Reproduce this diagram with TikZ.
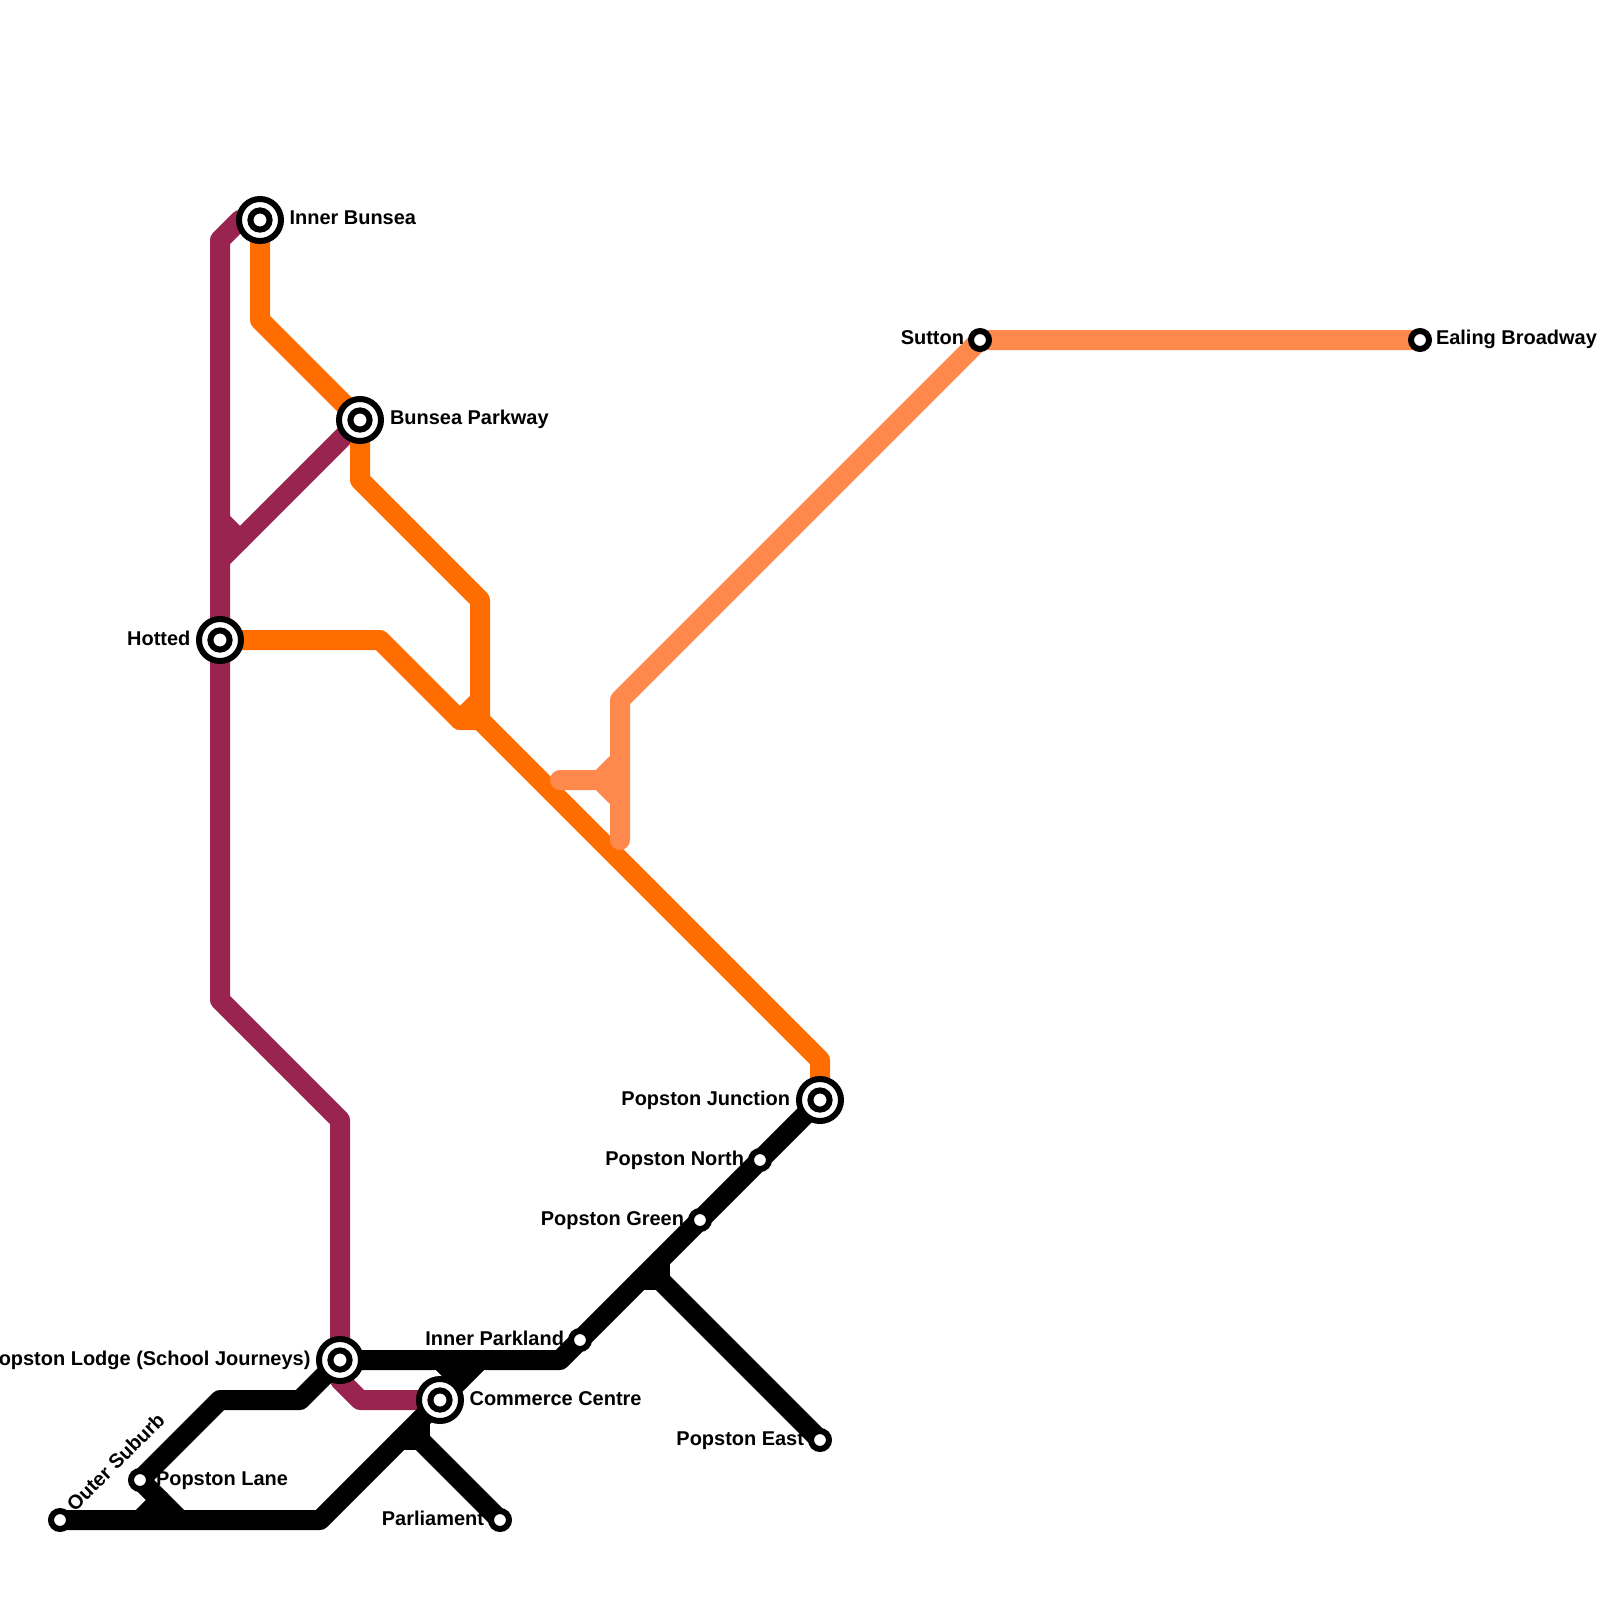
\documentclass[tikz,border=0pt]{standalone}
\usepackage{fontspec}
\setmainfont{Liberation Sans}
\usetikzlibrary{positioning}
\definecolor{plumline}{RGB}{153,36,80}
\definecolor{orangeline}{RGB}{255,108,0}
\definecolor{peachline}{RGB}{255,136,77}
\tikzset{
  lab/.style={font=\fontsize{14.2}{16}\selectfont\bfseries,inner sep=0pt,outer sep=0pt,text height=10.3pt,text depth=3.2pt},
  railway/.style={line width=0.5cm,line join=round,line cap=round},
  hubo/.style={draw=black,circle,fill=white,line width=0.15cm,minimum size=1.05cm,inner sep=0pt},
  hubi/.style={draw=black,circle,fill=white,line width=0.15cm,minimum size=0.48cm,inner sep=0pt},
  halt/.style={draw=black,circle,fill=white,line width=0.15cm,minimum size=0.45cm,inner sep=0pt},
}
\begin{document}
\begin{tikzpicture}[x=0.5cm,y=-0.5cm]
  \useasboundingbox (0,0) rectangle (80,80);
  \coordinate (innerbunseapt) at (13,11);
  \coordinate (bunseaparkwaypt) at (18,21);
  \coordinate (hottedpt) at (11,32);
  \coordinate (suttonpt) at (49,17);
  \coordinate (ealingpt) at (71,17);
  \coordinate (junctionpt) at (41,55);
  \coordinate (northpt) at (38,58);
  \coordinate (greenpt) at (35,61);
  \coordinate (parklandpt) at (29,67);
  \coordinate (lodgept) at (17,68);
  \coordinate (commercept) at (22,70);
  \coordinate (lanept) at (7,74);
  \coordinate (suburbpt) at (3,76);
  \coordinate (eastpt) at (41,72);
  \coordinate (parliamentpt) at (25,76);
  % plum
  \coordinate (plumfork) at (12,27);
  \coordinate (plumstub) at (11,26);
  \draw[railway,plumline] (innerbunseapt) -- (12,11) -- (11,12) -- (11,50) -- (17,56) -- (lodgept) -- (17,69) -- (18,70) -- (commercept);
  \draw[railway,plumline] (bunseaparkwaypt) -- (plumfork) -- (11,28);
  \draw[railway,plumline] (plumstub) -- (plumfork);
  % orange
  \coordinate (orangeknee) at (24,36);
  \coordinate (orangebend) at (23,36);
  \coordinate (orangestub) at (24,35);
  \draw[railway,orangeline] (innerbunseapt) -- (13,16) -- (bunseaparkwaypt) -- (18,24) -- (24,30) -- (orangeknee);
  \draw[railway,orangeline] (hottedpt) -- (19,32) -- (orangebend) -- (orangeknee) -- (41,53) -- (junctionpt);
  \draw[railway,orangeline] (orangebend) -- (orangestub);
  % peach
  \coordinate (peachfork) at (30,39);
  \coordinate (peachend) at (28,39);
  \coordinate (peachbottom) at (31,42);
  \draw[railway,peachline] (ealingpt) -- (suttonpt) -- (31,35) -- (peachbottom);
  \draw[railway,peachline] (peachend) -- (peachfork) -- (31,38);
  \draw[railway,peachline] (peachfork) -- (31,40);
  % black
  \coordinate (eastfork) at (33,64);
  \coordinate (parliamentfork) at (21,72);
  \draw[railway,black] (lodgept) -- (28,68) -- (parklandpt) -- (greenpt) -- (northpt) -- (junctionpt);
  \draw[railway,black] (33,63) -- (eastfork) -- (32,64);
  \draw[railway,black] (eastfork) -- (eastpt);
  \draw[railway,black] (lodgept) -- (15,70) -- (11,70) -- (lanept) -- (9,76);
  \draw[railway,black] (8,75) -- (7,76);
  \draw[railway,black] (suburbpt) -- (16,76) -- (commercept) -- (24,68);
  \draw[railway,black] (22,68) -- (23,69);
  \draw[railway,black] (21,71) -- (parliamentfork) -- (20,72);
  \draw[railway,black] (parliamentfork) -- (parliamentpt);
  % stations
  \node[hubo] (innerbunsea) at (innerbunseapt) {};
  \node[hubi] (innerbunseac) at (innerbunseapt) {};
  \node[hubo] (bunseaparkway) at (bunseaparkwaypt) {};
  \node[hubi] (bunseaparkwayc) at (bunseaparkwaypt) {};
  \node[hubo] (hotted) at (hottedpt) {};
  \node[hubi] (hottedc) at (hottedpt) {};
  \node[hubo] (junction) at (junctionpt) {};
  \node[hubi] (junctionc) at (junctionpt) {};
  \node[hubo] (lodge) at (lodgept) {};
  \node[hubi] (lodgec) at (lodgept) {};
  \node[hubo] (commerce) at (commercept) {};
  \node[hubi] (commercec) at (commercept) {};
  \node[halt] (sutton) at (suttonpt) {};
  \node[halt] (ealing) at (ealingpt) {};
  \node[halt] (north) at (northpt) {};
  \node[halt] (green) at (greenpt) {};
  \node[halt] (parkland) at (parklandpt) {};
  \node[halt] (lane) at (lanept) {};
  \node[halt] (suburb) at (suburbpt) {};
  \node[halt] (east) at (eastpt) {};
  \node[halt] (parliament) at (parliamentpt) {};
  % labels
  \node[lab,right=0.14cm of innerbunsea] (innerbunsealab) {Inner Bunsea};
  \node[lab,right=0.15cm of bunseaparkway] (bunseaparkwaylab) {Bunsea Parkway};
  \node[lab,left=0.14cm of hotted] (hottedlab) {Hotted};
  \node[lab,left=0.15cm of junction] (junctionlab) {Popston Junction};
  \node[lab,left=0.14cm of lodge] (lodgelab) {Popston Lodge (School Journeys)};
  \node[lab,right=0.14cm of commerce] (commercelab) {Commerce Centre};
  \node[lab,left=0.1cm of sutton] (suttonlab) {Sutton};
  \node[lab,right=0.1cm of ealing] (ealinglab) {Ealing Broadway};
  \node[lab,left=0.1cm of north] (northlab) {Popston North};
  \node[lab,left=0.1cm of green] (greenlab) {Popston Green};
  \node[lab,left=0.1cm of parkland] (parklandlab) {Inner Parkland};
  \node[lab,right=0.1cm of lane] (lanelab) {Popston Lane};
  \node[lab,left=0.1cm of east] (eastlab) {Popston East};
  \node[lab,left=0.1cm of parliament] (parliamentlab) {Parliament};
  \node[lab,rotate=45,anchor=west] (suburblab) at (3.58,75.45) {Outer Suburb};
\end{tikzpicture}
\end{document}
